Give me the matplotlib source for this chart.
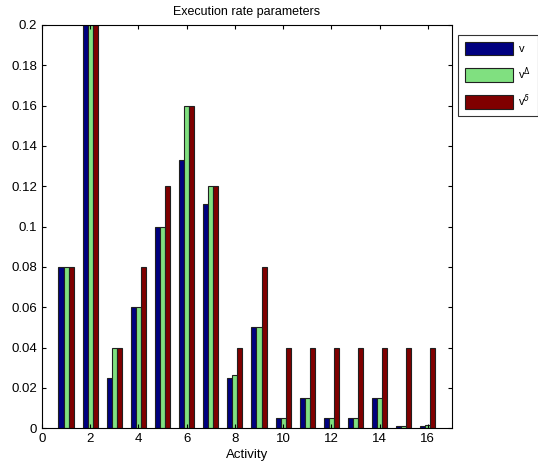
import matplotlib
matplotlib.use("Agg")
import matplotlib.pyplot as plt
import numpy as np

plt.rcParams['font.family'] = ['Liberation Sans', 'DejaVu Sans']

activity = np.arange(1, 17)
v = [0.08, 0.2, 0.025, 0.06, 0.1, 0.133, 0.111, 0.025,
     0.05, 0.005, 0.015, 0.005, 0.005, 0.015, 0.001, 0.001]
v_delta_up = [0.08, 0.2, 0.04, 0.06, 0.1, 0.16, 0.12, 0.0265,
              0.05, 0.005, 0.015, 0.005, 0.005, 0.015, 0.001, 0.0015]
v_delta_low = [0.08, 0.2, 0.04, 0.08, 0.12, 0.16, 0.12, 0.04,
               0.08, 0.04, 0.04, 0.04, 0.04, 0.04, 0.04, 0.04]

labels = ["v", r"v$^{\Delta}$", r"v$^{\delta}$"]
colors = ["#000080", "#80e080", "#800000"]

fig = plt.figure(figsize=(5.38, 4.70), dpi=100)
ax = fig.add_axes([0.078, 0.089, 0.762, 0.858])

w = 0.21
series = [v, v_delta_up, v_delta_low]
for i, (vals, lab, col) in enumerate(zip(series, labels, colors)):
    ax.bar(activity + (i - 1) * w, vals, width=w, color=col,
           edgecolor="#202020", linewidth=0.8, label=lab)

ax.set_xlim(0, 17)
ax.set_ylim(0, 0.2)
ax.set_xticks(np.arange(0, 17, 2))
ax.set_yticks(np.arange(0, 0.201, 0.02))
ax.set_yticklabels(["0", "0.02", "0.04", "0.06", "0.08", "0.1",
                    "0.12", "0.14", "0.16", "0.18", "0.2"])
ax.tick_params(direction="in", top=True, right=True, labelsize=9.5, length=3)
ax.set_xlabel("Activity", fontsize=9.5, labelpad=3)
ax.set_title("Execution rate parameters", fontsize=9, pad=7)

leg = ax.legend(loc="upper left", bbox_to_anchor=(1.016, 0.975), fontsize=8,
                fancybox=False, edgecolor="black", handlelength=4.3,
                handleheight=1.45, borderpad=0.6, labelspacing=0.95,
                handletextpad=0.5, borderaxespad=0)
leg.get_frame().set_linewidth(0.8)

plt.savefig("out.png", dpi=100)
